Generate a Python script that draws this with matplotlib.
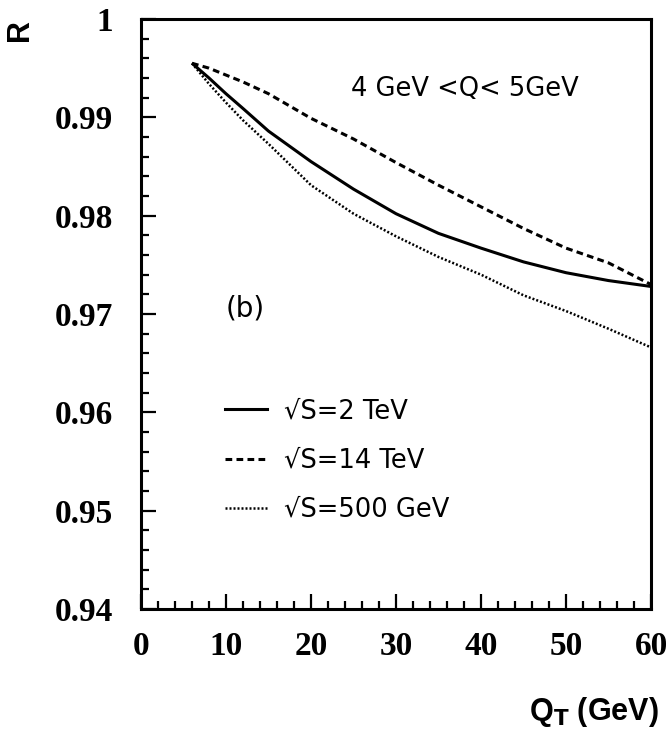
import matplotlib
matplotlib.use("Agg")
import matplotlib.pyplot as plt
from matplotlib.lines import Line2D
from matplotlib.ticker import MultipleLocator

# ---- data ----
qt = [6, 8, 10, 12, 15, 20, 25, 30, 35, 40, 45, 50, 55, 60]
r_2tev = [0.9955, 0.9940, 0.9924, 0.9909, 0.9886, 0.9855, 0.9827, 0.9802, 0.9782, 0.9767, 0.9753, 0.9742, 0.9734, 0.9728]
r_14tev = [0.9955, 0.9950, 0.9943, 0.9936, 0.9924, 0.9899, 0.9878, 0.9854, 0.9831, 0.9809, 0.9787, 0.9767, 0.9752, 0.9730]
r_500gev = [0.9955, 0.9934, 0.9915, 0.9897, 0.9873, 0.9831, 0.9802, 0.9779, 0.9758, 0.9740, 0.9719, 0.9703, 0.9685, 0.9666]
labels = ["\u221aS=2 TeV", "\u221aS=14 TeV", "\u221aS=500 GeV"]
xticks = [0, 10, 20, 30, 40, 50, 60]
yticks = [0.94, 0.95, 0.96, 0.97, 0.98, 0.99, 1.0]
yticklabels = ["0.94", "0.95", "0.96", "0.97", "0.98", "0.99", "1"]

fig = plt.figure(figsize=(6.66, 7.30), dpi=100)
ax = fig.add_axes([141/666, 1 - 609/730, (651-141)/666, (609-19)/730])

lw = 2.2
ax.plot(qt, r_2tev, color="black", lw=lw, solid_capstyle="butt", solid_joinstyle="round")
ax.plot(qt, r_14tev, color="black", lw=lw, dashes=(2.2, 1.4))
ax.plot(qt, r_500gev, color="black", lw=1.8, dashes=(0.8, 0.8))

ax.set_xlim(0, 60)
ax.set_ylim(0.94, 1.0)

for s in ["top", "right", "left", "bottom"]:
    ax.spines[s].set_linewidth(2.2)

ax.set_xticks(xticks)
ax.set_yticks(yticks)
ax.set_yticklabels(yticklabels)
ax.xaxis.set_minor_locator(MultipleLocator(2))
ax.yaxis.set_minor_locator(MultipleLocator(0.002))
ax.tick_params(which="both", direction="in", top=False, right=False, width=1.6)
ax.tick_params(which="major", length=11)
ax.tick_params(which="minor", length=6)
ax.tick_params(axis="x", which="major", pad=16)
ax.tick_params(axis="y", which="major", pad=20)
for lab in ax.get_xticklabels() + ax.get_yticklabels():
    lab.set_fontfamily("Liberation Serif")
    lab.set_fontweight("bold")
    lab.set_fontsize(24)

fig.text(20/666, 1 - 30/730, "R", rotation=90, ha="center", va="center",
         fontsize=22, fontweight="bold", family="Liberation Sans")
fig.text(594/666, 1 - 712/730, "Q$_\\mathbf{T}$ (GeV)", ha="center", va="center",
         fontsize=22, fontweight="bold", family="Liberation Sans")

fig.text(465/666, 1 - 89/730, "4 GeV <Q< 5GeV", ha="center", va="center",
         fontsize=18.5, family="DejaVu Sans")
fig.text(245/666, 1 - 308/730, "(b)", ha="center", va="center",
         fontsize=20, family="DejaVu Sans")

handles = [
    Line2D([], [], color="black", lw=lw),
    Line2D([], [], color="black", lw=lw, dashes=(2.2, 1.4)),
    Line2D([], [], color="black", lw=1.8, dashes=(0.8, 0.8)),
]
leg = ax.legend(handles, labels, loc="upper left", bbox_to_anchor=(0.1647, 0.357),
                frameon=False, prop={"family": "DejaVu Sans", "size": 18.5},
                handlelength=1.65, handletextpad=0.65, labelspacing=0.9,
                borderaxespad=0, borderpad=0)

fig.savefig("out.png", dpi=100)
